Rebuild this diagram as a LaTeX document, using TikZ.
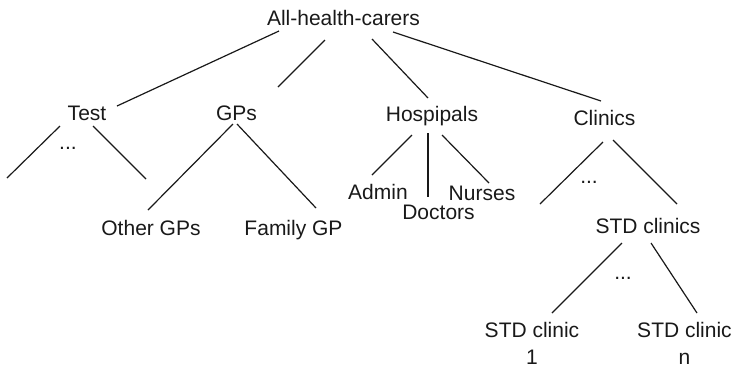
\documentclass[tikz,border=0pt]{standalone}
\usepackage{fontspec}
\setmainfont{Liberation Sans}
\begin{document}
\begin{tikzpicture}[x=1pt,y=-1pt,
  lbl/.style={inner sep=0pt,anchor=base,font=\fontsize{21}{27}\selectfont,text=black!90},
  edge/.style={line width=1.2pt,black!90}]
\useasboundingbox (0,0) rectangle (737,368);
\node[lbl] (root) at (343.5,25) {All-health-carers};
\node[lbl] (test) at (87,120) {Test};
\node[lbl] (gps) at (236.5,120) {GPs};
\node[lbl] (hosp) at (432,121) {Hospipals};
\node[lbl] (clin) at (604.5,125) {Clinics};
\node[lbl] (admin) at (378,199) {Admin};
\node[lbl] (nurses) at (482,200) {Nurses};
\node[lbl] (doctors) at (438.5,219) {Doctors};
\node[lbl] (other) at (151,235) {Other GPs};
\node[lbl] (family) at (293.5,235) {Family GP};
\node[lbl] (stdc) at (648,233) {STD clinics};
\node[lbl,align=center] (std1) at (532,364) {STD clinic\\1};
\node[lbl,align=center] (stdn) at (684.5,364) {STD clinic\\n};
\node[lbl] (d1) at (68,149) {...};
\node[lbl] (d2) at (589,183) {...};
\node[lbl] (d3) at (623,279) {...};
\coordinate (tl) at (7,178);
\coordinate (tr) at (146,179);
\coordinate (cl) at (540,204);

\draw[edge] ([shift={(-64.5,6)}]root.base) -- ([shift={(30,-14)}]test.base);
\draw[edge] ([shift={(-18.5,15)}]root.base) -- ([shift={(41.5,-33)}]gps.base);
\draw[edge] ([shift={(28.5,14)}]root.base) -- ([shift={(-4,-23)}]hosp.base);
\draw[edge] ([shift={(49.5,7)}]root.base) -- ([shift={(-3.5,-24)}]clin.base);
\draw[edge] ([shift={(-27,6)}]test.base) -- (tl);
\draw[edge] ([shift={(6,6)}]test.base) -- (tr);
\draw[edge] ([shift={(-3.5,4)}]gps.base) -- ([shift={(-3,-25)}]other.base);
\draw[edge] ([shift={(0.5,4)}]gps.base) -- ([shift={(22.5,-27)}]family.base);
\draw[edge] ([shift={(-20,14)}]hosp.base) -- ([shift={(-6,-24)}]admin.base);
\draw[edge] ([shift={(-4,12)}]hosp.base) -- ([shift={(-10.5,-22)}]doctors.base);
\draw[edge] ([shift={(10,14)}]hosp.base) -- ([shift={(7,-17)}]nurses.base);
\draw[edge] ([shift={(-1.5,17)}]clin.base) -- (cl);
\draw[edge] ([shift={(8.5,15)}]clin.base) -- ([shift={(29,-29)}]stdc.base);
\draw[edge] ([shift={(-26,10)}]stdc.base) -- ([shift={(20,-51)}]std1.base);
\draw[edge] ([shift={(3,10)}]stdc.base) -- ([shift={(12.5,-51)}]stdn.base);
\end{tikzpicture}
\end{document}
